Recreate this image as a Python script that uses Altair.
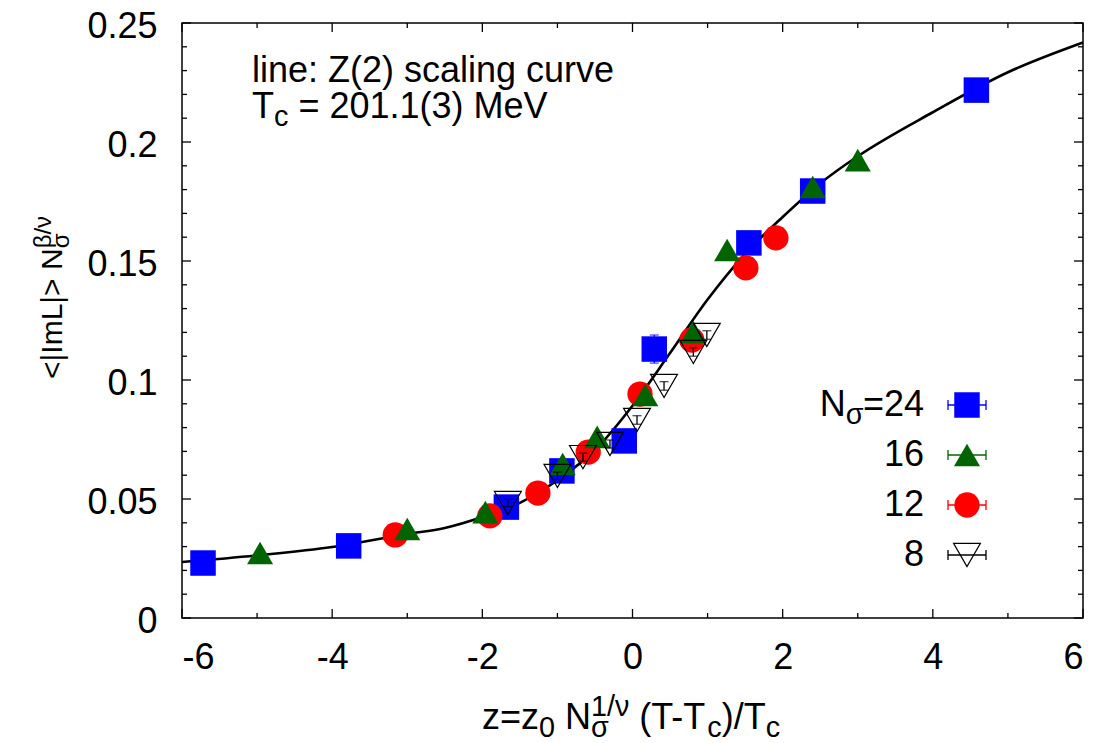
import altair as alt
import pandas as pd

# ---------------- data ----------------
x24 = [-5.72, -3.78, -1.68, -0.94, -0.11, 0.29, 1.55, 2.40, 4.58]
y24 = [0.0231, 0.0303, 0.0466, 0.0618, 0.0744, 0.1130, 0.1576, 0.1794, 0.2218]
e24 = [0.0005, 0.0005, 0.0008, 0.0010, 0.0010, 0.0059, 0.0010, 0.0010, 0.0010]

x16 = [-4.96, -3.00, -1.96, -0.93, -0.47, 0.17, 0.81, 1.26, 2.40, 3.00]
y16 = [0.0273, 0.0374, 0.0445, 0.0647, 0.0761, 0.0937, 0.1202, 0.1546, 0.1811, 0.1924]
e16 = [0.0004, 0.0004, 0.0005, 0.0006, 0.0006, 0.0008, 0.0008, 0.0008, 0.0008, 0.0008]

x12 = [-3.16, -1.90, -1.26, -0.59, 0.10, 0.79, 1.51, 1.91]
y12 = [0.0349, 0.0429, 0.0525, 0.0697, 0.0941, 0.1168, 0.1471, 0.1597]
e12 = [0.0006, 0.0007, 0.0008, 0.0010, 0.0012, 0.0012, 0.0012, 0.0012]

x8 = [-1.66, -1.00, -0.66, -0.30, 0.06, 0.42, 0.81, 0.99]
y8 = [0.0483, 0.0597, 0.0676, 0.0731, 0.0832, 0.0975, 0.1118, 0.1189]
e8 = [0.0015, 0.0016, 0.0017, 0.0017, 0.0018, 0.0018, 0.0018, 0.0018]

curve_x = [-6, -5, -4, -3, -2.5, -2, -1.5, -1, -0.5, 0, 0.5, 1, 1.5, 2, 2.5, 3, 4, 5, 6]
curve_y = [0.0235, 0.0263, 0.0298, 0.0353, 0.0378, 0.0424, 0.0484, 0.0579, 0.0706,
           0.0892, 0.1113, 0.1338, 0.1530, 0.1685, 0.1826, 0.1940, 0.2125, 0.2293, 0.2418]

x_major = [-6, -4, -2, 0, 2, 4, 6]
x_minor = [-5, -3, -1, 1, 3, 5]
y_major = [0, 0.05, 0.1, 0.15, 0.2, 0.25]
y_minor = [0.01, 0.02, 0.03, 0.04, 0.06, 0.07, 0.08, 0.09, 0.11, 0.12, 0.13, 0.14,
           0.16, 0.17, 0.18, 0.19, 0.21, 0.22, 0.23, 0.24]

series_labels = ["24", "16", "12", "8"]

# ---------------- layout ----------------
FONT = "Liberation Sans"
OX, OY = 182, 23
W, H = 901, 595
FS = 36

xs = alt.Scale(domain=[-6, 6], nice=False, zero=False)
ys = alt.Scale(domain=[0, 0.25], nice=False, zero=False)

GW = {' ': 0.278, '<': 0.584, '>': 0.584, '|': 0.26, 'I': 0.278, 'm': 0.833, 'L': 0.556,
      'N': 0.722, '=': 0.584, 'z': 0.5, '(': 0.333, ')': 0.333, 'T': 0.611, '-': 0.333,
      'c': 0.5, '/': 0.278, 'σ': 0.6, 'ν': 0.5, 'β': 0.575, '.': 0.278, 'M': 0.833,
      'e': 0.556, 'V': 0.667}


def tw(s, fs):
    return sum(GW.get(ch, 0.556) for ch in s) * fs


def one_text(s, x, y, fs, angle=0, align="left", color="black"):
    return alt.Chart(pd.DataFrame({"t": [s]})).mark_text(
        align=align, baseline="alphabetic", font=FONT, fontSize=fs, angle=angle, color=color
    ).encode(x=alt.value(x - OX), y=alt.value(y - OY), text="t:N")


def compose(segs, fs, x0, y0, rotated=False):
    """segs: list of (kind, text); kind n/sub/sup/stack (text=(sub, sup))"""
    sfs = fs * 0.8
    dsub, dsup = 0.22 * fs, 0.36 * fs
    pos = 0.0
    out = []
    for kind, t in segs:
        if kind == "n":
            stripped = t.lstrip(" ")
            pos += tw(t[:len(t) - len(stripped)], fs)
            pieces = [(stripped, fs, 0)]
            adv = tw(stripped, fs)
        elif kind == "sub":
            pieces = [(t, sfs, dsub)]
            adv = tw(t, sfs)
        elif kind == "sup":
            pieces = [(t, sfs, -dsup)]
            adv = tw(t, sfs)
        else:
            pieces = [(t[0], sfs, dsub), (t[1], sfs, -dsup)]
            adv = max(tw(t[0], sfs), tw(t[1], sfs))
        for s, f, d in pieces:
            if rotated:
                out.append(one_text(s, x0 + d, y0 - pos, f, angle=270))
            else:
                out.append(one_text(s, x0 + pos, y0 + d, f))
        pos += adv
    return out


def seg_width(segs, fs):
    sfs = fs * 0.8
    tot = 0
    for kind, t in segs:
        if kind == "n":
            tot += tw(t, fs)
        elif kind in ("sub", "sup"):
            tot += tw(t, sfs)
        else:
            tot += max(tw(t[0], sfs), tw(t[1], sfs))
    return tot


layers = []

# curve
curve_df = pd.DataFrame({"x": curve_x, "y": curve_y})
layers.append(alt.Chart(curve_df).mark_line(color="black", strokeWidth=2.6, interpolate="monotone")
              .encode(x=alt.X("x:Q", scale=xs), y=alt.Y("y:Q", scale=ys)))

# series: (x, y, e, shape, color, filled, size)
series = [
    (x24, y24, e24, "square", "#0000ff", True, 650),
    (x12, y12, e12, "circle", "#ff0000", True, 640),
    (x16, y16, e16, "triangle-up", "#006400", True, 680),
    (x8, y8, e8, "triangle-down", "black", False, 720),
]
for xv, yv, ev, shp, col, fil, sz in series:
    df = pd.DataFrame({"x": xv, "y": yv, "e": ev})
    df["lo"] = df["y"] - df["e"]
    df["hi"] = df["y"] + df["e"]
    base = alt.Chart(df)
    layers.append(base.mark_rule(color=col, strokeWidth=1.3).encode(
        x=alt.X("x:Q", scale=xs), y=alt.Y("lo:Q", scale=ys), y2="hi:Q"))
    for c in ("lo", "hi"):
        layers.append(base.mark_tick(color=col, orient="horizontal", size=9, thickness=1.3).encode(
            x=alt.X("x:Q", scale=xs), y=alt.Y(f"{c}:Q", scale=ys)))
    if fil:
        layers.append(base.mark_point(shape=shp, filled=True, color=col, size=sz, opacity=1).encode(
            x=alt.X("x:Q", scale=xs), y=alt.Y("y:Q", scale=ys)))
    else:
        layers.append(base.mark_point(shape=shp, filled=False, stroke=col, strokeWidth=1.2,
                                      size=sz, opacity=1).encode(
            x=alt.X("x:Q", scale=xs), y=alt.Y("y:Q", scale=ys)))

# inward ticks
TL_MAJ, TL_MIN = 9, 5
for vals, ln in ((x_major, TL_MAJ), (x_minor, TL_MIN)):
    d = alt.Chart(pd.DataFrame({"v": vals}))
    layers.append(d.mark_rule(color="black", strokeWidth=1.3).encode(
        x=alt.X("v:Q", scale=xs), y=alt.value(H), y2=alt.value(H - ln)))
    layers.append(d.mark_rule(color="black", strokeWidth=1.3).encode(
        x=alt.X("v:Q", scale=xs), y=alt.value(0), y2=alt.value(ln)))
for vals, ln in ((y_major, TL_MAJ), (y_minor, TL_MIN)):
    d = alt.Chart(pd.DataFrame({"v": vals}))
    layers.append(d.mark_rule(color="black", strokeWidth=1.3).encode(
        y=alt.Y("v:Q", scale=ys), x=alt.value(0), x2=alt.value(ln)))
    layers.append(d.mark_rule(color="black", strokeWidth=1.3).encode(
        y=alt.Y("v:Q", scale=ys), x=alt.value(W), x2=alt.value(W - ln)))

# axes (labels only)
axis_layer = alt.Chart(pd.DataFrame({"x": [0], "y": [0]})).mark_point(opacity=0).encode(
    x=alt.X("x:Q", scale=xs, axis=alt.Axis(
        values=x_major, ticks=False, domain=False, grid=False, title=None,
        labelFont=FONT, labelFontSize=FS, labelColor="black", labelPadding=22,
        labelExpr="datum.value < 0 ? '-' + abs(datum.value) : '' + datum.value")),
    y=alt.Y("y:Q", scale=ys, axis=alt.Axis(
        values=y_major, ticks=False, domain=False, grid=False, title=None,
        labelFont=FONT, labelFontSize=FS, labelColor="black", labelPadding=25, labelOffset=3,
        labelExpr="'' + datum.value")),
)
layers.append(axis_layer)

# x title
xt = [("n", "z=z"), ("sub", "0"), ("n", " N"), ("stack", ("σ", "1/ν")), ("n", " (T-T"),
      ("sub", "c"), ("n", ")/T"), ("sub", "c")]
xw = seg_width(xt, FS)
layers += compose(xt, FS, 631 - xw / 2, 729)

# y title (rotated)
yt = [("n", "<|ImL|> N"), ("stack", ("σ", "β/ν"))]
layers += compose(yt, 30, 62, 379, rotated=True)

# annotation
layers.append(one_text("line: Z(2) scaling curve", 252, 82, FS))
layers += compose([("n", "T"), ("sub", "c"), ("n", " = 201.1(3) MeV")], FS, 252, 118)

# legend
leg_y = [405, 455, 505, 555]
leg_text_y = [416, 466, 516, 566]
RX = 924
for i, (lab, (xv, yv, ev, shp, col, fil, sz)) in enumerate(
        zip(series_labels, [series[0], series[2], series[1], series[3]])):
    ty = leg_text_y[i]
    if i == 0:
        segs = [("n", "N"), ("sub", "σ"), ("n", "=" + lab)]
        layers += compose(segs, FS, RX - seg_width(segs, FS), ty)
    else:
        layers.append(one_text(lab, RX, ty, FS, align="right"))
    ly = leg_y[i] - OY
    d = alt.Chart(pd.DataFrame({"a": [0]}))
    layers.append(d.mark_rule(color=col, strokeWidth=1.3).encode(
        x=alt.value(948 - OX), x2=alt.value(986 - OX), y=alt.value(ly)))
    for ex in (948, 986):
        layers.append(d.mark_rule(color=col, strokeWidth=1.3).encode(
            x=alt.value(ex - OX), y=alt.value(ly - 5), y2=alt.value(ly + 5)))
    if fil:
        layers.append(d.mark_point(shape=shp, filled=True, color=col, size=sz, opacity=1).encode(
            x=alt.value(967 - OX), y=alt.value(ly)))
    else:
        layers.append(d.mark_point(shape=shp, filled=False, stroke=col, strokeWidth=1.2, size=sz,
                                   opacity=1).encode(x=alt.value(967 - OX), y=alt.value(ly)))

chart = alt.layer(*layers).properties(
    width=W, height=H,
    autosize=alt.AutoSizeParams(type="none"),
    padding={"left": OX, "top": OY, "right": 1115 - OX - W, "bottom": 743 - OY - H},
    background="white",
).configure_view(stroke="black", strokeWidth=1.5)

chart.save("out.html", embed_options={"renderer": "svg", "actions": False})
